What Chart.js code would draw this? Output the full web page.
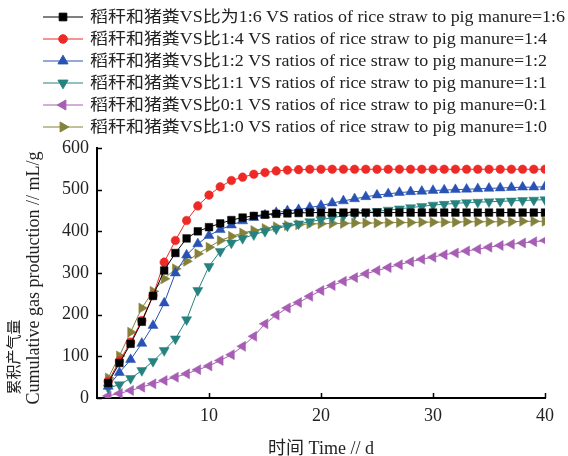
<!DOCTYPE html>
<html>
<head>
<meta charset="utf-8">
<script src="https://cdn.jsdelivr.net/npm/chart.js@4"></script>
<style>
  html, body { margin: 0; padding: 0; background: #fff; }
  #wrap { width: 568px; height: 456px; }
</style>
</head>
<body>
<div id="wrap"><canvas id="myChart"></canvas></div>
<script>
// days of digestion
const days = [1,2,3,4,5,6,7,8,9,10,11,12,13,14,15,16,17,18,19,20,
              21,22,23,24,25,26,27,28,29,30,31,32,33,34,35,36,37,38,39,40];

// cumulative gas production, mL/g
const ratio16 = [36,84,130,183,245,306,348,383,400,410,419,427,433,437,440,442,443,444,445,445,
                 445,445,445,445,445,445,445,445,445,445,445,445,445,445,445,445,445,445,445,445];
const ratio14 = [40,89,134,186,246,326,378,426,461,487,507,522,530,537,541,545,547,548,549,549,
                 549,549,549,549,549,549,549,549,549,549,549,549,549,549,549,549,549,549,549,549];
const ratio12 = [28,61,92,131,174,228,300,343,370,390,404,415,425,433,439,445,449,452,457,462,
                 468,473,478,483,487,490,493,495,496,498,499,500,501,502,503,504,505,506,506,507];
const ratio11 = [24,32,47,66,88,114,142,188,258,316,352,372,383,392,400,406,413,418,423,428,
                 433,437,441,444,448,451,454,457,460,463,465,467,469,470,471,472,473,474,475,476];
const ratio01 = [5,11,18,26,34,42,50,58,68,77,90,104,124,148,178,199,216,229,244,258,
                 270,280,289,298,306,313,320,327,333,338,344,348,353,357,362,366,369,372,375,378];
const ratio10 = [48,101,158,216,256,286,310,328,346,362,378,388,396,402,407,411,414,416,418,418,
                 419,419,420,420,420,421,421,421,422,422,422,422,423,423,423,423,423,424,424,424];

const seriesNames = [
  '稻秆和猪粪VS比为1:6 VS ratios of rice straw to pig manure=1:6',
  '稻秆和猪粪VS比1:4 VS ratios of rice straw to pig manure=1:4',
  '稻秆和猪粪VS比1:2 VS ratios of rice straw to pig manure=1:2',
  '稻秆和猪粪VS比1:1 VS ratios of rice straw to pig manure=1:1',
  '稻秆和猪粪VS比0:1 VS ratios of rice straw to pig manure=0:1',
  '稻秆和猪粪VS比1:0 VS ratios of rice straw to pig manure=1:0'
];
const yTicks = [0, 100, 200, 300, 400, 500, 600];
const xTicks = [10, 20, 30, 40];

const FONT = "'Liberation Serif', 'Noto Sans CJK SC', serif";
const TEXT = '#222';

const styles = [
  { color: '#000000', pointStyle: 'rect', rotation: 0, radius: 5.4 },
  { color: '#ee2a26', pointStyle: 'circle', rotation: 0, radius: 4.3 },
  { color: '#2852b4', pointStyle: 'triangle', rotation: 0, radius: 5.8 },
  { color: '#25827e', pointStyle: 'triangle', rotation: 180, radius: 5.8 },
  { color: '#a65db3', pointStyle: 'triangle', rotation: 270, radius: 5.8 },
  { color: '#84823a', pointStyle: 'triangle', rotation: 90, radius: 5.8 }
];
const allValues = [ratio16, ratio14, ratio12, ratio11, ratio01, ratio10];

const datasets = allValues.map((vals, i) => ({
  label: seriesNames[i],
  data: vals.map((v, k) => ({ x: days[k], y: v })),
  borderColor: styles[i].color,
  backgroundColor: styles[i].color,
  borderWidth: 1,
  pointStyle: styles[i].pointStyle,
  pointRotation: styles[i].rotation,
  pointRadius: styles[i].radius,
  pointBackgroundColor: styles[i].color,
  pointBorderColor: styles[i].color,
  pointBorderWidth: 0.5,
  tension: 0
}));

// legend, inner ticks and axis titles
const decorations = {
  id: 'decorations',
  afterDraw(chart) {
    const ctx = chart.ctx;
    const area = chart.chartArea;
    const xs = chart.scales.x, ys = chart.scales.y;
    ctx.save();
    // inward tick marks
    ctx.strokeStyle = '#000';
    ctx.lineWidth = 1.5;
    ctx.beginPath();
    yTicks.forEach(v => {
      const p = Math.round(ys.getPixelForValue(v)) + 0.5;
      ctx.moveTo(area.left, p);
      ctx.lineTo(area.left + 5, p);
    });
    xTicks.forEach(v => {
      const p = Math.round(xs.getPixelForValue(v)) + 0.5;
      ctx.moveTo(p, area.bottom);
      ctx.lineTo(p, area.bottom - 5);
    });
    ctx.stroke();

    // legend
    ctx.font = '16px ' + FONT;
    const widest = ctx.measureText(seriesNames[0]).width;
    const stretch = 475 / widest;
    chart.data.datasets.forEach((ds, i) => {
      const y = 17 + 22 * i;
      ctx.strokeStyle = ds.borderColor;
      ctx.lineWidth = 1;
      ctx.beginPath();
      ctx.moveTo(43, y);
      ctx.lineTo(83, y);
      ctx.stroke();
      ctx.fillStyle = ds.borderColor;
      Chart.helpers.drawPoint(ctx, {
        pointStyle: ds.pointStyle, rotation: ds.pointRotation,
        radius: ds.pointRadius, borderWidth: 0.5
      }, 63, y);
      ctx.save();
      ctx.translate(90, y + 1);
      ctx.scale(stretch, 1);
      ctx.fillStyle = TEXT;
      ctx.font = '16px ' + FONT;
      ctx.textAlign = 'left';
      ctx.textBaseline = 'middle';
      ctx.fillText(ds.label, 0, 0);
      ctx.restore();
    });

    // axis titles
    ctx.fillStyle = TEXT;
    ctx.textAlign = 'center';
    ctx.textBaseline = 'middle';
    ctx.font = '18px ' + FONT;
    ctx.fillText('时间 Time // d', (area.left + area.right) / 2, 449);

    ctx.save();
    ctx.translate(34, (area.top + area.bottom) / 2 + 5);
    ctx.rotate(-Math.PI / 2);
    ctx.font = '18px ' + FONT;
    ctx.fillText('Cumulative gas production // mL/g', 0, 0);
    ctx.restore();

    ctx.save();
    ctx.translate(15, 357);
    ctx.rotate(-Math.PI / 2);
    ctx.font = '15px ' + FONT;
    ctx.fillText('累积产气量', 0, 0);
    ctx.restore();

    ctx.restore();
  }
};

new Chart(document.getElementById('myChart').getContext('2d'), {
  type: 'line',
  data: { datasets: datasets },
  options: {
    responsive: true,
    maintainAspectRatio: false,
    animation: false,
    devicePixelRatio: 1,
    layout: { padding: { left: 52, top: 148, right: 23, bottom: 0 } },
    plugins: {
      legend: { display: false },
      tooltip: { enabled: false }
    },
    scales: {
      x: {
        type: 'linear',
        min: 0,
        max: 40,
        afterFit: s => { s.height = 58; },
        grid: { display: false, drawTicks: false },
        border: { display: true, color: '#000', width: 2 },
        ticks: {
          stepSize: 10,
          padding: 7,
          color: TEXT,
          font: { family: FONT, size: 18 },
          callback: v => (v === 0 ? '' : v)
        }
      },
      y: {
        min: 0,
        max: 600,
        afterFit: s => { s.width = 45; },
        grid: { display: false, drawTicks: false },
        border: { display: true, color: '#000', width: 2 },
        ticks: {
          stepSize: 100,
          padding: 8,
          color: TEXT,
          font: { family: FONT, size: 18 }
        }
      }
    }
  },
  plugins: [decorations]
});
</script>
</body>
</html>
